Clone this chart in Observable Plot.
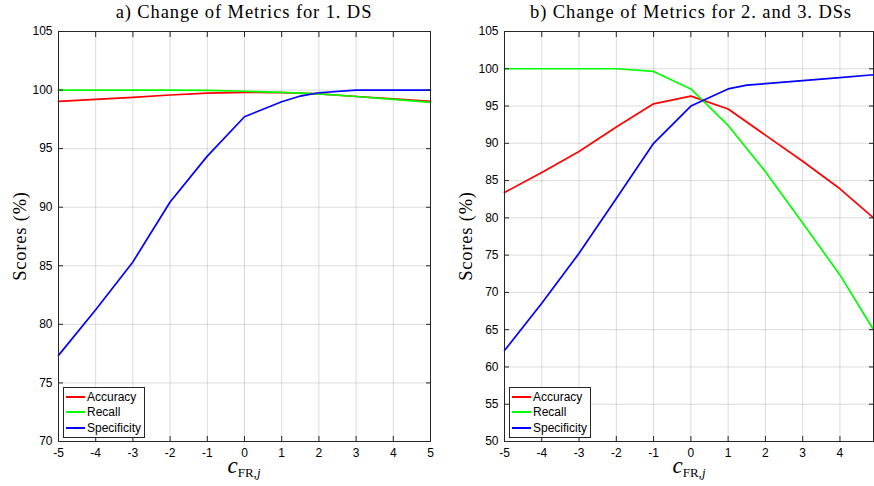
<!DOCTYPE html>
<html>
<head>
<meta charset="utf-8">
<script src="https://cdn.jsdelivr.net/npm/d3@7"></script>
<script src="https://cdn.jsdelivr.net/npm/@observablehq/plot@0.6"></script>
<style>
  html, body { margin: 0; padding: 0; background: #fff; }
  #wrap { position: relative; width: 874px; height: 486px; overflow: hidden; background: #fff; }
  .svgbox { position: absolute; top: 0; }
  .title { position: absolute; top: 2px; font-family: "Liberation Serif", serif; font-size: 18.5px; letter-spacing: 0.9px; color: #000; white-space: nowrap; transform: translateX(-50%); }
  .ylab { position: absolute; font-family: "Liberation Serif", serif; font-size: 18.5px; letter-spacing: 0.8px; color: #000; white-space: nowrap; transform: translate(-50%, -50%) rotate(-90deg); }
  .xlab { position: absolute; top: 453px; font-family: "Liberation Serif", serif; color: #000; white-space: nowrap; transform: translateX(-50%); }
  .xlab i.c { font-size: 23px; }
  .xlab sub { font-size: 13px; vertical-align: -4px; }
  .legend { position: absolute; background: #fff; border: 1px solid #262626; font-family: "Liberation Sans", Arial, sans-serif; font-size: 12px; color: #000; padding: 1px 3px 1px 2px; }
  .legend .row { display: flex; align-items: center; height: 15.5px; }
  .legend .sw { width: 19px; height: 2px; margin-right: 2px; }
</style>
</head>
<body>
<div id="wrap"></div>
<script>
// ---------- data ----------
const seriesNames = ["Accuracy", "Recall", "Specificity"];
const seriesColors = ["#ff0000", "#00ff00", "#0000ff"];

// Panel a) 1. DS
const xA = [-5, -4, -3, -2, -1, 0, 1, 2, 3, 4, 5];
const accuracyA = [99.03, 99.2, 99.37, 99.58, 99.74, 99.8, 99.78, 99.68, 99.45, 99.25, 99.03];
const recallA = [100, 100, 100, 100, 99.98, 99.9, 99.8, 99.68, 99.45, 99.2, 98.95];
const xSpecA = [-5, -4, -3, -2, -1, 0, 1, 1.5, 2, 3, 4, 5];
const specificityA = [77.35, 81.25, 85.33, 90.45, 94.36, 97.72, 99.0, 99.49, 99.77, 100, 100, 100];
const xTicksA = [-5, -4, -3, -2, -1, 0, 1, 2, 3, 4, 5];
const yTicksA = [70, 75, 80, 85, 90, 95, 100, 105];

// Panel b) 2. and 3. DSs
const xB = [-5, -4, -3, -2, -1, 0, 1, 2, 3, 4, 4.9];
const accuracyB = [83.4, 86.1, 88.9, 92.2, 95.3, 96.33, 94.6, 91.1, 87.6, 83.9, 80.0];
const recallB = [100, 100, 100, 100, 99.64, 97.3, 92.4, 86.2, 79.3, 72.35, 65.0];
const xSpecB = [-5, -4, -3, -2, -1, 0, 1, 1.5, 2, 3, 4, 4.9];
const specificityB = [62.2, 68.55, 75.25, 82.6, 90.0, 95.0, 97.3, 97.8, 98.0, 98.4, 98.8, 99.2];
const xTicksB = [-5, -4, -3, -2, -1, 0, 1, 2, 3, 4];
const yTicksB = [50, 55, 60, 65, 70, 75, 80, 85, 90, 95, 100, 105];

// ---------- drawing ----------
function panel({xss, vals, xDomain, yDomain, xTicks, yTicks, width, ml, mr}) {
  const data = [];
  seriesNames.forEach((name, k) => xss[k].forEach((x, i) => data.push({x, y: vals[k][i], name})));
  const fmt = d => String(d);
  return Plot.plot({
    width, height: 486,
    marginLeft: ml, marginRight: mr, marginTop: 31, marginBottom: 45,
    x: {domain: xDomain},
    y: {domain: yDomain},
    color: {domain: seriesNames, range: seriesColors},
    style: {fontFamily: "Liberation Sans, Arial, sans-serif", fontSize: "12px", color: "#262626", background: "transparent", overflow: "visible"},
    marks: [
      Plot.gridX(xTicks, {stroke: "#000", strokeOpacity: 0.14}),
      Plot.gridY(yTicks, {stroke: "#000", strokeOpacity: 0.14}),
      Plot.line(data, {x: "x", y: "y", z: "name", stroke: "name", strokeWidth: 1.7}),
      Plot.axisX(xTicks, {anchor: "bottom", tickSize: 0, tickPadding: 7, tickFormat: fmt, label: null, fill: "#000"}),
      Plot.axisY(yTicks, {anchor: "left", tickSize: 0, tickPadding: 6, tickFormat: fmt, label: null, fill: "#000"}),
      Plot.axisX(xTicks, {anchor: "bottom", tickSize: -5, tickFormat: () => "", label: null, stroke: "#262626"}),
      Plot.axisX(xTicks, {anchor: "top", tickSize: -5, tickFormat: () => "", label: null, stroke: "#262626"}),
      Plot.axisY(yTicks, {anchor: "left", tickSize: -5, tickFormat: () => "", label: null, stroke: "#262626"}),
      Plot.axisY(yTicks, {anchor: "right", tickSize: -5, tickFormat: () => "", label: null, stroke: "#262626"}),
      Plot.frame({stroke: "#262626"})
    ]
  });
}

const wrap = document.getElementById("wrap");

function place(el, left) {
  const box = document.createElement("div");
  box.className = "svgbox";
  box.style.left = left + "px";
  box.appendChild(el);
  wrap.appendChild(box);
}

place(panel({
  xss: [xA, xA, xSpecA], vals: [accuracyA, recallA, specificityA],
  xDomain: [-5, 5], yDomain: [70, 105], xTicks: xTicksA, yTicks: yTicksA,
  width: 440, ml: 58, mr: 10
}), 0);

place(panel({
  xss: [xB, xB, xSpecB], vals: [accuracyB, recallB, specificityB],
  xDomain: [-5, 4.9], yDomain: [50, 105], xTicks: xTicksB, yTicks: yTicksB,
  width: 434, ml: 64, mr: 1
}), 440);

function addHTML(cls, html, styles) {
  const d = document.createElement("div");
  d.className = cls;
  d.innerHTML = html;
  Object.assign(d.style, styles);
  wrap.appendChild(d);
  return d;
}

addHTML("title", "a) Change of Metrics for 1. DS", {left: "244px"});
addHTML("title", "b) Change of Metrics for 2. and 3. DSs", {left: "691px"});
addHTML("ylab", "Scores (%)", {left: "20px", top: "236px"});
addHTML("ylab", "Scores (%)", {left: "466px", top: "236px"});
const xl = '<i class="c">c</i><sub>FR,<i>j</i></sub>';
addHTML("xlab", xl, {left: "244px"});
addHTML("xlab", xl, {left: "689px"});

function legend(left) {
  const rows = seriesNames.map((n, i) =>
    `<div class="row"><div class="sw" style="background:${seriesColors[i]}"></div><span>${n}</span></div>`).join("");
  addHTML("legend", rows, {left: left + "px", top: "387px"});
}
legend(63);
legend(509);
</script>
</body>
</html>
